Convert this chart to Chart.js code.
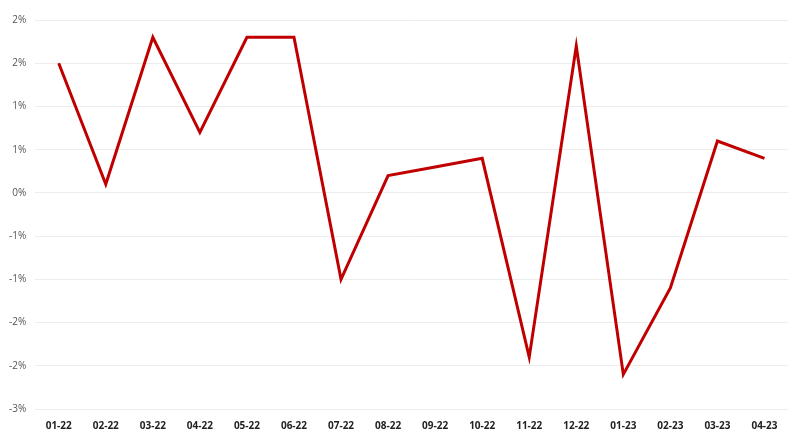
<!DOCTYPE html>
<html>
<head>
<meta charset="utf-8">
<script src="https://cdn.jsdelivr.net/npm/chart.js@4"></script>
<style>
  html, body { margin: 0; padding: 0; background: #fff; }
  #wrap { width: 800px; height: 440px; }
</style>
</head>
<body>
<div id="wrap"><canvas id="chart"></canvas></div>
<script>
const months = ['01-22', '02-22', '03-22', '04-22', '05-22', '06-22', '07-22', '08-22',
    '09-22', '10-22', '11-22', '12-22', '01-23', '02-23', '03-23', '04-23']
const changes = [1.5, 0.1, 1.8, 0.7, 1.8, 1.8, -1.0, 0.2, 0.3, 0.4, -1.9, 1.7, -2.1, -1.1, 0.6, 0.4]
const yMin = -2.5
const yMax = 2.0
const yStep = 0.5

const ctx = document.getElementById('chart')
new Chart(ctx, {
    type: 'line',
    data: {
        labels: months,
        datasets: [{
            data: changes,
            borderColor: '#c00000',
            borderWidth: 3,
            pointRadius: 0,
            tension: 0,
        }],
    },
    options: {
        responsive: true,
        maintainAspectRatio: false,
        animation: false,
        layout: { padding: { top: 20, right: 12, left: 0, bottom: 5 } },
        plugins: {
            legend: { display: false },
            tooltip: { enabled: false },
        },
        scales: {
            x: {
                offset: true,
                grid: { display: false },
                border: { display: false },
                ticks: {
                    color: '#222',
                    font: { family: 'Open Sans', size: 10, weight: 'bold' },
                    maxRotation: 0,
                    autoSkip: false,
                    padding: 3,
                },
            },
            y: {
                min: yMin,
                max: yMax,
                grid: { color: '#ececec', drawTicks: false },
                border: { display: false },
                ticks: {
                    stepSize: yStep,
                    color: '#555',
                    font: { family: 'Open Sans', size: 10 },
                    padding: 9,
                    callback: (v) => Number(v).toFixed(0) + '%',
                },
            },
        },
    },
})
</script>
</body>
</html>
